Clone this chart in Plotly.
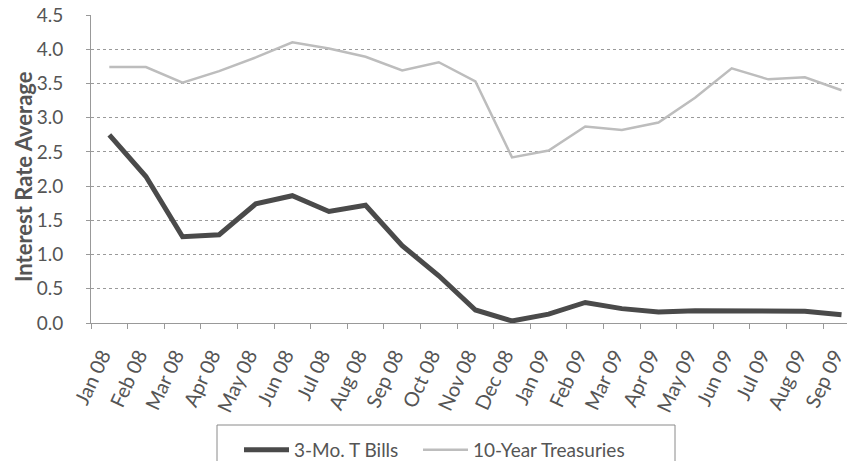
import plotly.graph_objects as go

months = ["Jan 08", "Feb 08", "Mar 08", "Apr 08", "May 08", "Jun 08", "Jul 08",
          "Aug 08", "Sep 08", "Oct 08", "Nov 08", "Dec 08", "Jan 09", "Feb 09",
          "Mar 09", "Apr 09", "May 09", "Jun 09", "Jul 09", "Aug 09", "Sep 09"]
tbills_3mo = [2.75, 2.14, 1.26, 1.29, 1.74, 1.86, 1.63, 1.72, 1.13, 0.69, 0.19,
              0.03, 0.13, 0.30, 0.21, 0.16, 0.18, 0.18, 0.18, 0.17, 0.12]
treasury_10y = [3.74, 3.74, 3.51, 3.68, 3.88, 4.10, 4.01, 3.89, 3.69, 3.81, 3.53,
                2.42, 2.52, 2.87, 2.82, 2.93, 3.29, 3.72, 3.56, 3.59, 3.40]
y_ticks = [0.0, 0.5, 1.0, 1.5, 2.0, 2.5, 3.0, 3.5, 4.0, 4.5]
y_title = "Interest Rate Average"

FONT = "Lato"
GRAY = "#555555"
PL, PT, PB = 91, 15, 138
W, H = 847, 461
PW, PH = W - PL, H - PT - PB


def px(x):
    return (x - PL) / PW


def py(y):
    return (H - PB - y) / PH


fig = go.Figure()
fig.add_trace(go.Scatter(x=months, y=tbills_3mo, mode="lines", name="3-Mo. T Bills",
                         line=dict(color="#4a4a4a", width=5), legend="legend"))
fig.add_trace(go.Scatter(x=months, y=treasury_10y, mode="lines", name="10-Year Treasuries",
                         line=dict(color="#bdbdbd", width=2.5), legend="legend2"))

# legend frame (cut by the bottom edge, as in the reference)
fig.add_shape(type="rect", xref="paper", yref="paper",
              x0=px(217), x1=px(675), y0=py(475), y1=py(425),
              line=dict(color="#8a8a8a", width=1), fillcolor="rgba(0,0,0,0)", layer="above")

# y-axis title
fig.add_annotation(text=f"<b>{y_title}</b>", xref="paper", yref="paper",
                   x=px(23), y=py(177), xanchor="center", yanchor="middle",
                   textangle=-90, showarrow=False,
                   font=dict(size=22, family=FONT, color=GRAY))

legend_common = dict(orientation="h", xanchor="left", yanchor="top", borderwidth=0,
                     font=dict(size=19, family=FONT, color=GRAY),
                     itemwidth=45, bgcolor="rgba(0,0,0,0)")

fig.update_layout(
    width=W, height=H,
    margin=dict(l=PL, r=0, t=PT, b=PB, autoexpand=False),
    paper_bgcolor="white", plot_bgcolor="white",
    font=dict(family=FONT, color=GRAY),
    showlegend=True,
    legend=dict(x=px(239), y=py(431), **legend_common),
    legend2=dict(x=px(418), y=py(431), **legend_common),
    xaxis=dict(type="category", range=[-0.5, 20.15], showgrid=False, automargin=False,
               ticks="outside", tickson="boundaries", ticklen=5, tickcolor="#999999",
               showline=True, linecolor="#999999", linewidth=1,
               ticklabelstandoff=12, ticklabelshift=-7,
               tickangle=-65, tickfont=dict(size=20, family=FONT, color=GRAY)),
    yaxis=dict(range=[0, 4.5], tickvals=y_ticks, ticktext=[f"{v:.1f}" for v in y_ticks],
               automargin=False,
               showgrid=True, gridcolor="#9a9a9a", griddash="dot", gridwidth=1,
               showline=True, linecolor="#999999", linewidth=1, zeroline=False,
               ticks="outside", ticklen=4, tickcolor="#999999", ticklabelstandoff=19,
               tickfont=dict(size=19, family=FONT, color=GRAY)),
)

fig.write_html("out.html", config={"displayModeBar": False},
               post_script="document.body.style.margin='0';document.body.style.overflow='hidden';")
